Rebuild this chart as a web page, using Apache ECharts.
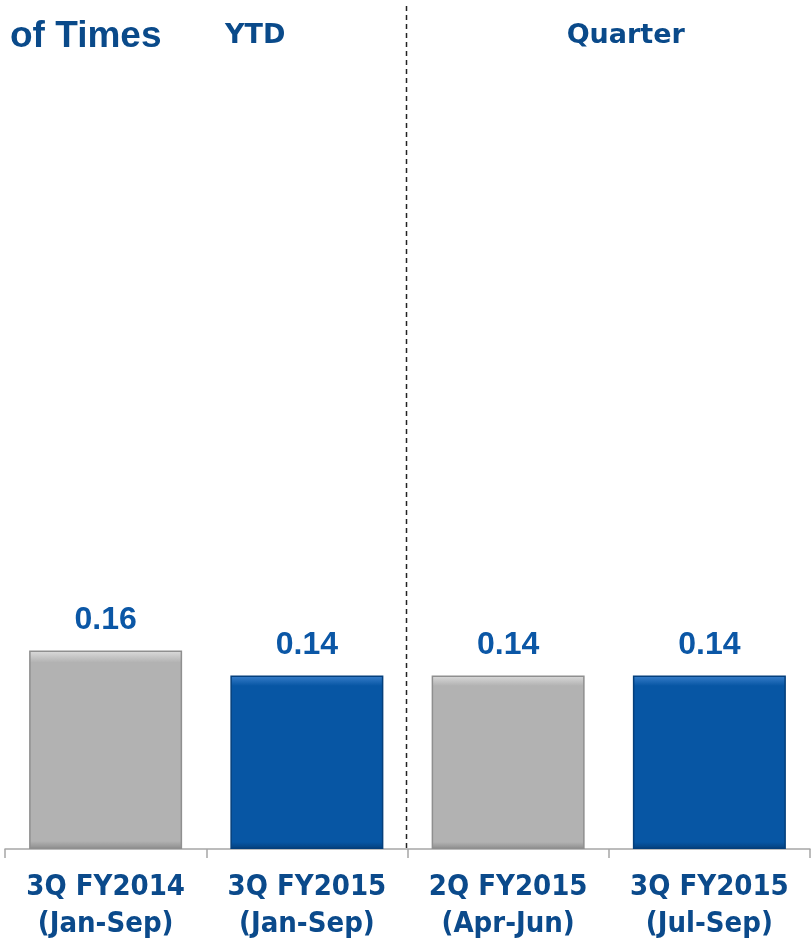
<!DOCTYPE html>
<html><head><meta charset="utf-8">
<script src="https://cdn.jsdelivr.net/npm/echarts@6/dist/echarts.min.js"></script>
<style>html,body{margin:0;padding:0;background:#fff}#c{width:811px;height:940px}</style>
</head><body><div id="c"></div>
<script>
const categories = ['3Q FY2014\n(Jan-Sep)', '3Q FY2015\n(Jan-Sep)', '2Q FY2015\n(Apr-Jun)', '3Q FY2015\n(Jul-Sep)'];
const values = [0.16, 0.14, 0.14, 0.14];
const barKinds = ['prior', 'current', 'prior', 'current'];
const valueLabels = ['0.16', '0.14', '0.14', '0.14'];
const groupTitles = ['YTD', 'Quarter'];

const styles = {
  prior: { fill: ['#dcdcdc', '#b2b2b2', '#8c8c8c'], border: '#8f8f8f' },
  current: { fill: ['#3a80cc', '#0756a4', '#043f7c'], border: '#043f7c' }
};

const chart = echarts.init(document.getElementById('c'));
const data = values.map((v, i) => {
  const s = styles[barKinds[i]];
  return {
    value: v,
    itemStyle: {
      color: new echarts.graphic.LinearGradient(0, 0, 0, 1, [
        { offset: 0, color: s.fill[0] },
        { offset: 0.06, color: s.fill[1] },
        { offset: 0.96, color: s.fill[1] },
        { offset: 1, color: s.fill[2] }
      ]),
      borderColor: s.border,
      borderWidth: 1.5
    },
    label: { formatter: valueLabels[i] }
  };
});

const titleFont = { fontFamily: '"DejaVu Sans", sans-serif', fontWeight: 'bold', fontSize: 27, fill: '#0a4a8a', textAlign: 'center' };

chart.setOption({
  animation: false,
  grid: { left: 5, right: 1, top: 105, bottom: 91, containLabel: false, outerBoundsMode: 'none' },
  xAxis: {
    type: 'category',
    data: categories,
    axisLine: { lineStyle: { color: '#a6a6a6', width: 1.5 } },
    axisTick: { show: true, interval: 0, length: 9, lineStyle: { color: '#a6a6a6', width: 1.5 } },
    axisLabel: {
      interval: 0,
      margin: 20,
      color: '#0b4a8b',
      fontFamily: '"Liberation Sans Narrow", "DejaVu Sans Condensed", sans-serif',
      fontWeight: 'bold',
      fontSize: 29,
      lineHeight: 37
    }
  },
  yAxis: { type: 'value', min: 0, max: 0.6, show: false, splitLine: { show: false } },
  series: [{
    type: 'bar',
    data: data,
    barWidth: 153,
    label: {
      show: true,
      position: 'top',
      distance: 14,
      color: '#0b57a6',
      fontFamily: '"Liberation Sans", Arial, sans-serif',
      fontWeight: 'bold',
      fontSize: 32
    }
  }]
});

const px = categories.map(c => chart.convertToPixel({ xAxisIndex: 0 }, c));
const base = chart.convertToPixel({ yAxisIndex: 0 }, 0);
const midX = (px[1] + px[2]) / 2;
chart.setOption({
  graphic: [
    { type: 'text', left: 10, top: 18, style: { text: 'of Times', fill: '#0a4a8a', fontFamily: '"Liberation Sans", Arial, sans-serif', fontWeight: 'bold', fontSize: 37 } },
    { type: 'text', x: (px[0] + px[1]) / 2 + 49, y: 22, style: Object.assign({ text: groupTitles[0] }, titleFont) },
    { type: 'text', x: (px[2] + px[3]) / 2 + 17, y: 22, style: Object.assign({ text: groupTitles[1] }, titleFont) },
    { type: 'line', shape: { x1: midX - 1, y1: 6, x2: midX - 1, y2: base }, style: { stroke: '#222', lineWidth: 1.5, lineDash: [5, 4] } }
  ]
});
</script></body></html>
